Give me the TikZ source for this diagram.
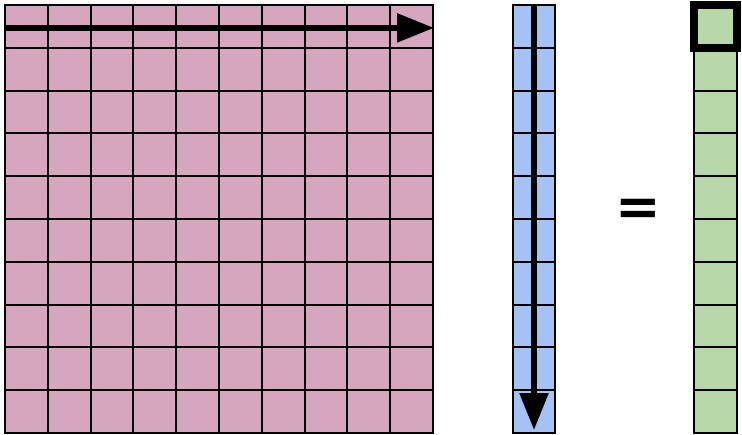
\documentclass[tikz,border=0pt]{standalone}
\usepackage{fontspec}
\setmainfont{DejaVu Sans}
\usetikzlibrary{arrows.meta, positioning}
\definecolor{matPink}{HTML}{D5A6BD}
\definecolor{vecBlue}{HTML}{A4C2F4}
\definecolor{outGreen}{HTML}{B6D7A8}
\tikzset{
  cell/.style={rectangle, draw=black, line width=0.04cm, inner sep=0pt,
               minimum size=0.856cm},
  cellM/.style={cell, fill=matPink},
  cellV/.style={cell, fill=vecBlue},
  cellG/.style={cell, fill=outGreen},
  cellHL/.style={cellG, line width=0.16cm},
  arrowK/.style={-{Triangle[length=0.74cm, width=0.56cm]}, line width=0.11cm, black},
}

\begin{document}
\begin{tikzpicture}[x=0.02cm, y=-0.02cm]
    \useasboundingbox (0,0) rectangle (742,434);
    % matrix
    \foreach \i in {1,...,10}
      \foreach \j in {1,...,10}
        \node[cellM] (m-\i-\j) at ({5+42.8*(\j-0.5)}, {5+42.8*(\i-0.5)}) {};
    % vector
    \foreach \i in {1,...,10}
      \node[cellV] (v-\i) at (534, {5+42.8*(\i-0.5)}) {};
    % result
    \foreach \i in {2,...,10}
      \node[cellG] (g-\i) at (715.5, {5+42.8*(\i-0.5)}) {};
    \node[cellHL] (g-1) at (715.5, 26.4) {};
    \node[font=\bfseries\fontsize{31}{31}\selectfont, inner sep=0pt] (eq) at (638, 212.5) {=};
    \draw[arrowK] ([yshift=-0.03cm]m-1-1.west) -- ([yshift=-0.03cm]m-1-10.east);
    \draw[arrowK, shorten >=0.08cm] (v-1.north) -- (v-10.south);
  \end{tikzpicture}
\end{document}
